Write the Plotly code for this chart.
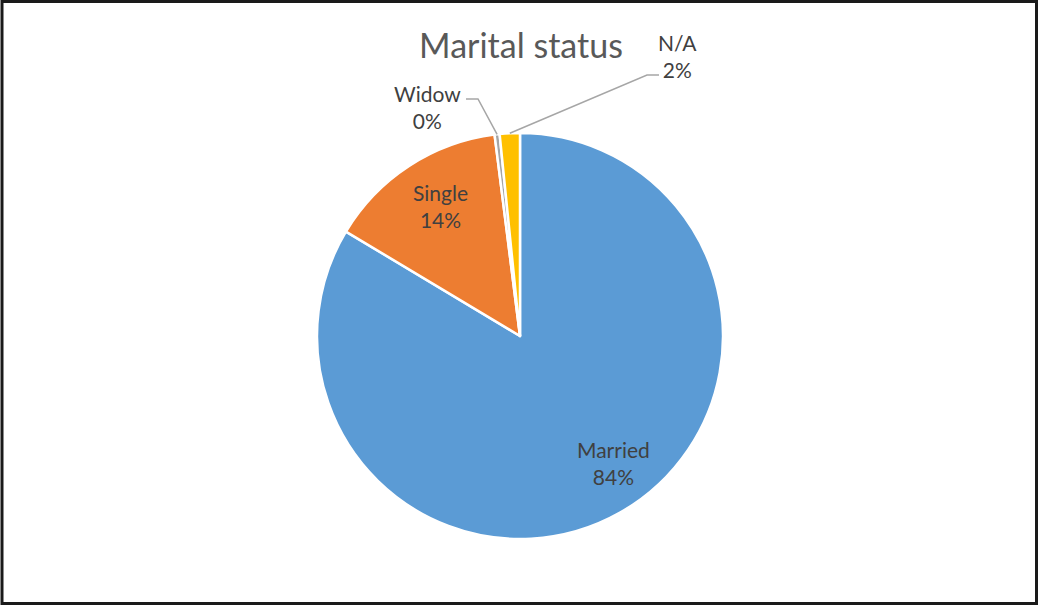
import math
import plotly.graph_objects as go

# Marital status shares (percent)
categories = ["Married", "Single", "Widow", "N/A"]
shares = [83.6, 14.4, 0.4, 1.6]
colors = ["#5B9BD5", "#ED7D31", "#A5A5A5", "#FFC000"]

W, H = 1040, 606
FONT = "Lato"
LABEL_SIZE = 21

# pie geometry in pixels
cx, cy, R = 520, 336, 203


def px(x):
    return x / W


def py(y):
    return 1 - y / H


fig = go.Figure(
    go.Pie(
        labels=categories,
        values=shares,
        sort=False,
        direction="clockwise",
        rotation=0,
        marker=dict(colors=colors, line=dict(color="white", width=2.5)),
        textinfo="none",
        domain=dict(x=[px(cx - R), px(cx + R)], y=[py(cy + R), py(cy - R)]),
        hoverinfo="label+percent",
        showlegend=False,
    )
)

total = sum(shares)
cum = 0.0
mids = {}
for name, v in zip(categories, shares):
    mids[name] = (cum + v / 2) / total * 2 * math.pi
    cum += v

# data label placement: label centre, and for the thin slices an elbow leader line
label_pos = {
    "Married": ((613, 463), None),
    "Single": ((440, 206), None),
    "Widow": ((427, 107), ((478, 99), (466, 99))),
    "N/A": ((677, 56), ((647, 75), (659, 75))),
}

shapes = []
annotations = []
for name, v in zip(categories, shares):
    lab, leader = label_pos[name]
    pct = round(v / total * 100)
    annotations.append(
        dict(
            x=px(lab[0]),
            y=py(lab[1]),
            xref="paper",
            yref="paper",
            xanchor="center",
            yanchor="middle",
            text=f"{name}<br>{pct}%",
            showarrow=False,
            font=dict(family=FONT, size=LABEL_SIZE, color="#404040"),
            align="center",
        )
    )
    if leader:
        elbow, end = leader
        a = mids[name]
        tx = cx + R * math.sin(a)
        ty = cy - R * math.cos(a)
        shapes.append(
            dict(
                type="path",
                xref="paper",
                yref="paper",
                path=f"M {px(tx)} {py(ty)} L {px(elbow[0])} {py(elbow[1])} L {px(end[0])} {py(end[1])}",
                line=dict(color="#A6A6A6", width=1.5),
            )
        )

# chart frame
shapes.append(
    dict(
        type="rect",
        xref="paper",
        yref="paper",
        x0=px(2),
        x1=px(1036.5),
        y0=py(603.5),
        y1=py(1.5),
        line=dict(color="#1a1a1a", width=3),
        fillcolor="rgba(0,0,0,0)",
    )
)

fig.update_layout(
    width=W,
    height=H,
    margin=dict(l=0, r=0, t=0, b=0),
    paper_bgcolor="white",
    plot_bgcolor="white",
    title=dict(
        text="Marital status",
        x=px(521),
        xanchor="center",
        y=py(46),
        yanchor="middle",
        font=dict(family=FONT, size=34, color="#595959"),
    ),
    shapes=shapes,
    annotations=annotations,
)

fig.write_html("out.html")
